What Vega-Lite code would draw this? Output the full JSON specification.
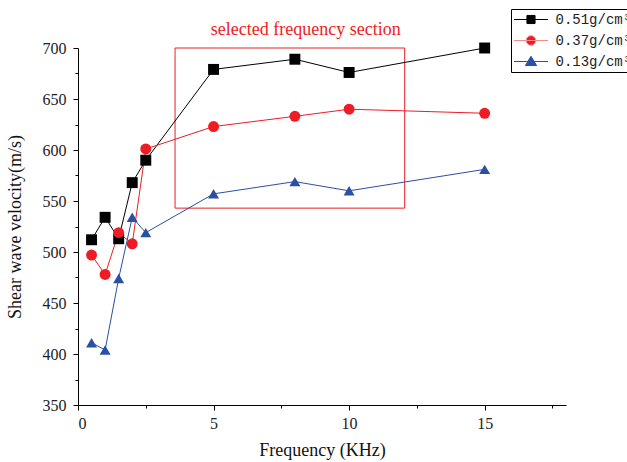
{
  "$schema": "https://vega.github.io/schema/vega-lite/v6.json",
  "autosize": "none",
  "width": 488,
  "height": 357,
  "padding": {"left": 78, "top": 48, "right": 61, "bottom": 57},
  "background": "white",
  "config": {
    "view": {"stroke": null},
    "font": "Liberation Serif",
    "axis": {
      "labelFont": "Liberation Serif", "titleFont": "Liberation Serif",
      "labelFontSize": 16, "titleFontSize": 18, "titleFontWeight": "normal",
      "labelColor": "#222", "titleColor": "#111",
      "domainColor": "black", "tickColor": "black", "domainWidth": 1, "tickWidth": 1,
      "grid": false
    },
    "legend": {
      "orient": "none", "legendX": 433, "legendY": -39,
      "strokeColor": "black", "fillColor": "white", "padding": 3,
      "labelFont": "Liberation Mono", "labelFontSize": 14, "labelColor": "#222",
      "symbolSize": 196, "symbolStrokeWidth": 1, "symbolOffset": 9.5, "rowPadding": 6, "labelOffset": 17
    }
  },
  "datasets": {
    "pts": [
      {"f": 0.5, "v": 512, "s": "0.51g/cm³"},
      {"f": 1, "v": 534, "s": "0.51g/cm³"},
      {"f": 1.5, "v": 513, "s": "0.51g/cm³"},
      {"f": 2, "v": 568, "s": "0.51g/cm³"},
      {"f": 2.5, "v": 590, "s": "0.51g/cm³"},
      {"f": 5, "v": 679, "s": "0.51g/cm³"},
      {"f": 8, "v": 689, "s": "0.51g/cm³"},
      {"f": 10, "v": 676, "s": "0.51g/cm³"},
      {"f": 15, "v": 700, "s": "0.51g/cm³"},
      {"f": 0.5, "v": 497, "s": "0.37g/cm³"},
      {"f": 1, "v": 478, "s": "0.37g/cm³"},
      {"f": 1.5, "v": 519, "s": "0.37g/cm³"},
      {"f": 2, "v": 508, "s": "0.37g/cm³"},
      {"f": 2.5, "v": 601, "s": "0.37g/cm³"},
      {"f": 5, "v": 623, "s": "0.37g/cm³"},
      {"f": 8, "v": 633, "s": "0.37g/cm³"},
      {"f": 10, "v": 640, "s": "0.37g/cm³"},
      {"f": 15, "v": 636, "s": "0.37g/cm³"},
      {"f": 0.5, "v": 411, "s": "0.13g/cm³"},
      {"f": 1, "v": 404, "s": "0.13g/cm³"},
      {"f": 1.5, "v": 474, "s": "0.13g/cm³"},
      {"f": 2, "v": 534, "s": "0.13g/cm³"},
      {"f": 2.5, "v": 519, "s": "0.13g/cm³"},
      {"f": 5, "v": 557, "s": "0.13g/cm³"},
      {"f": 8, "v": 569, "s": "0.13g/cm³"},
      {"f": 10, "v": 560, "s": "0.13g/cm³"},
      {"f": 15, "v": 581, "s": "0.13g/cm³"}
    ]
  },
  "resolve": {"scale": {"shape": "independent", "fill": "independent", "stroke": "independent"}, "axis": {"x": "independent", "y": "independent"}},
  "layer": [
    {
      "data": {"values": [{"x1": 3.58, "x2": 12.05, "y1": 700, "y2": 543}]},
      "mark": {"type": "rect", "fill": null, "stroke": "#ee1c24", "strokeWidth": 1},
      "encoding": {
        "x": {"field": "x1", "type": "quantitative", "scale": {"domain": [0, 18], "nice": false},
          "axis": {"orient": "bottom", "values": [2.5, 7.5, 12.5, 17.5], "labels": false, "tickSize": 3, "domain": false, "title": null}},
        "x2": {"field": "x2"},
        "y": {"field": "y1", "type": "quantitative", "scale": {"domain": [350, 700], "nice": false, "zero": false},
          "axis": {"orient": "left", "values": [375, 425, 475, 525, 575, 625, 675], "labels": false, "tickSize": 3, "domain": false, "title": null}},
        "y2": {"field": "y2"}
      }
    },
    {
      "data": {"values": [{"x": 8.4, "y": 718, "t": "selected frequency section"}]},
      "mark": {"type": "text", "color": "#ee1c24", "font": "Liberation Serif", "fontSize": 18, "baseline": "middle", "align": "center"},
      "encoding": {
        "x": {"field": "x", "type": "quantitative", "axis": null},
        "y": {"field": "y", "type": "quantitative", "axis": null},
        "text": {"field": "t"}
      }
    },
    {
      "data": {"name": "pts"},
      "mark": {"type": "line", "strokeWidth": 1},
      "encoding": {
        "x": {"field": "f", "type": "quantitative",
          "axis": {"orient": "bottom", "values": [0, 5, 10, 15], "tickSize": 5, "labelPadding": 5, "title": "Frequency (KHz)", "titlePadding": 10}},
        "y": {"field": "v", "type": "quantitative",
          "axis": {"orient": "left", "values": [350, 400, 450, 500, 550, 600, 650, 700], "tickSize": 5, "labelPadding": 7, "title": "Shear wave velocity(m/s)", "titlePadding": 18}},
        "color": {"field": "s", "type": "nominal", "legend": null,
          "scale": {"domain": ["0.51g/cm³", "0.37g/cm³", "0.13g/cm³"], "range": ["#000000", "#ee1c24", "#2a4fa3"]}},
        "detail": {"field": "s"}
      }
    },
    {
      "data": {"name": "pts"},
      "mark": {"type": "point", "filled": true, "size": 120, "opacity": 1},
      "encoding": {
        "x": {"field": "f", "type": "quantitative", "axis": null},
        "y": {"field": "v", "type": "quantitative", "axis": null},
        "color": {"field": "s", "type": "nominal", "legend": null},
        "shape": {"field": "s", "type": "nominal", "legend": null,
          "scale": {"domain": ["0.51g/cm³", "0.37g/cm³", "0.13g/cm³"], "range": ["square", "circle", "triangle-up"]}}
      }
    },
    {
      "data": {"values": []},
      "mark": {"type": "point", "filled": true, "opacity": 1},
      "encoding": {
        "fill": {"field": "s", "type": "nominal", "title": null,
          "scale": {"domain": ["0.51g/cm³", "0.37g/cm³", "0.13g/cm³"], "range": ["#000000", "#ee1c24", "#2a4fa3"]}},
        "stroke": {"field": "s", "type": "nominal", "title": null,
          "scale": {"domain": ["0.51g/cm³", "0.37g/cm³", "0.13g/cm³"], "range": ["#000000", "#f38c8c", "#2a4fa3"]}},
        "shape": {"field": "s", "type": "nominal", "title": null,
          "scale": {"domain": ["0.51g/cm³", "0.37g/cm³", "0.13g/cm³"],
            "range": ["M-2.43,0H2.43M-0.58,-0.58H0.58V0.58H-0.58Z",
                      "M-2.43,0H2.43M0.68,0A0.68,0.68 0 1 1 -0.68,0A0.68,0.68 0 1 1 0.68,0Z",
                      "M-2.43,0H2.43M0,-0.75L0.8,0.58H-0.8Z"]}}
      }
    }
  ]
}
